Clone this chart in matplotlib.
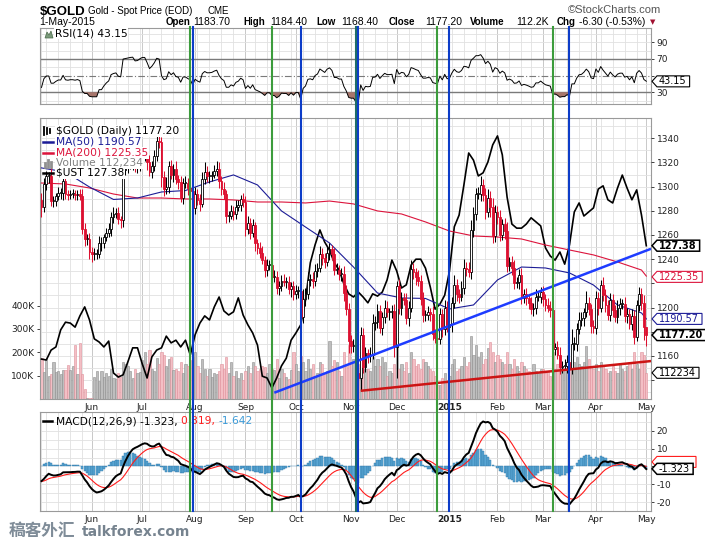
import numpy as np
import pandas as pd
import matplotlib
matplotlib.use("Agg")
import matplotlib.pyplot as plt
from matplotlib.patches import Polygon
from matplotlib.lines import Line2D
from matplotlib.transforms import IdentityTransform

# ---------------------------------------------------------------- data
holidays = ['2014-05-26', '2014-07-04', '2014-09-01', '2014-11-27', '2014-12-25',
            '2015-01-01', '2015-01-19', '2015-02-16', '2015-04-03']

# closes before the chart window (only used to warm up RSI / MACD)
closes_prior = [1350, 1337, 1337, 1351, 1338, 1340, 1347, 1367, 1370, 1382, 1367, 1359, 1330, 1331,
                1335, 1311, 1311, 1303, 1293, 1294, 1284,
                1279, 1290, 1286, 1303, 1298, 1309, 1310, 1320, 1318, 1327, 1302, 1303, 1294, 1289,
                1283, 1284, 1292, 1303, 1297, 1296, 1289]

closes_may14 = [1283, 1302, 1309, 1309, 1288, 1288, 1292, 1295, 1295, 1305, 1294, 1293, 1294, 1294,
                1293, 1294, 1292, 1265, 1257, 1257, 1246]
closes_jun14 = [1244, 1244, 1244, 1253, 1253, 1258, 1262, 1265, 1275, 1277, 1278, 1273, 1272, 1314,
                1316, 1318, 1320, 1321, 1316, 1317, 1322]
closes_jul14 = [1326, 1326, 1320, 1312, 1317, 1325, 1338, 1337, 1308, 1298, 1300, 1317, 1310, 1315,
                1306, 1304, 1291, 1303, 1303, 1299, 1296, 1282]
closes_aug14 = [1294, 1289, 1286, 1306, 1312, 1309, 1309, 1310, 1313, 1315, 1305, 1298, 1294, 1276,
                1276, 1280, 1277, 1283, 1285, 1290, 1287]
closes_sep14 = [1265, 1270, 1262, 1268, 1253, 1249, 1245, 1239, 1231, 1235, 1235, 1225, 1225, 1216,
                1218, 1222, 1221, 1221, 1215, 1218, 1211]
closes_oct14 = [1214, 1214, 1192, 1207, 1211, 1223, 1224, 1222, 1230, 1233, 1244, 1241, 1238, 1245,
                1248, 1244, 1231, 1231, 1228, 1228, 1212, 1199, 1172]
closes_nov14 = [1168, 1168, 1146, 1142, 1177, 1151, 1162, 1160, 1161, 1187, 1188, 1197, 1183, 1192,
                1200, 1196, 1196, 1197, 1167]
closes_dec14 = [1218, 1200, 1208, 1206, 1191, 1200, 1232, 1229, 1225, 1222, 1207, 1194, 1194, 1196,
                1195, 1178, 1175, 1174, 1195, 1182, 1200, 1184]
closes_jan15 = [1186, 1204, 1219, 1211, 1209, 1216, 1233, 1232, 1229, 1264, 1277, 1294, 1294, 1301,
                1293, 1279, 1291, 1283, 1259, 1279]
closes_feb15 = [1275, 1260, 1269, 1263, 1234, 1238, 1233, 1220, 1221, 1227, 1208, 1211, 1208, 1204,
                1199, 1200, 1209, 1209, 1213]
closes_mar15 = [1207, 1202, 1200, 1198, 1166, 1167, 1161, 1151, 1152, 1152, 1155, 1149, 1170, 1170,
                1182, 1190, 1191, 1196, 1204, 1199, 1185, 1183]
closes_apr15 = [1208, 1200, 1219, 1210, 1202, 1194, 1206, 1198, 1192, 1200, 1203, 1203, 1193, 1195,
                1186, 1193, 1176, 1202, 1211, 1204, 1183.5]
closes_may15 = [1177.2]

# wick length above / below the candle body
hiwick = [6,5,4,3,8,4,3,5,4,4,6,3,3,4,3,3,4,6,5,4,5,
          4,5,4,6,5,3,4,5,4,6,4,5,3,6,5,4,5,4,6,5,4,
          5,4,3,6,4,5,7,6,4,5,8,4,5,4,6,4,5,4,6,4,5,4,
          6,4,5,6,8,5,4,3,5,6,5,4,6,3,4,5,4,6,4,3,5,
          5,6,4,5,3,4,5,6,4,5,4,3,6,5,4,5,6,4,5,3,4,
          5,4,6,8,5,6,4,5,6,4,7,5,4,6,5,4,5,6,4,5,6,7,5,
          5,6,5,4,7,6,5,4,6,8,5,6,5,4,6,5,4,5,6,
          4,6,5,4,6,5,7,5,4,6,5,6,4,5,4,6,4,3,5,4,6,5,
          6,5,8,5,4,6,7,5,6,8,6,5,6,8,5,6,7,5,8,6,
          5,6,4,5,8,4,5,6,4,5,6,4,5,3,5,4,6,5,4,
          5,4,6,5,8,4,5,6,4,5,6,4,12,6,5,6,5,4,10,5,4,5,
          6,5,4,6,5,4,6,5,4,6,5,4,6,5,4,6,5,4,6,5,6,
          0.7]
lowick = [8,4,5,6,4,5,4,3,5,6,4,4,3,3,4,4,3,4,6,5,6,
          6,5,4,3,6,4,3,4,6,5,3,4,6,5,4,5,3,6,4,5,4,
          4,5,6,3,5,4,4,5,8,6,4,5,4,6,4,6,4,5,4,6,4,5,
          5,4,6,3,4,5,6,4,3,4,6,5,4,6,5,3,5,4,3,5,4,
          6,4,5,4,6,5,4,3,6,5,4,6,4,5,6,4,3,5,4,6,5,
          4,6,8,5,6,4,5,6,4,5,4,6,5,4,6,5,4,3,5,6,7,5,10,
          6,5,8,6,10,5,4,6,5,4,6,5,4,6,5,4,6,5,8,
          25,5,6,4,5,6,4,5,6,4,5,6,5,4,6,5,4,3,4,6,5,4,
          5,6,4,6,5,4,5,6,4,5,6,5,4,6,5,6,4,8,6,5,
          6,5,4,6,5,4,6,5,4,6,5,4,6,5,4,6,5,4,5,
          6,5,4,6,4,5,4,6,5,4,6,5,4,5,6,4,5,6,4,5,6,4,
          5,6,4,5,6,4,5,6,4,5,6,4,5,6,4,5,6,4,5,6,10,
          8.8]

# volume in thousands
volume_k = [175,115,170,100,105,160,115,120,105,125,125,145,125,140,230,105,238,105,42,3,3,
            3,95,120,78,120,95,110,100,130,90,85,110,95,160,150,140,120,90,130,110,115,
            165,200,150,210,130,120,175,150,200,190,140,170,180,125,130,120,160,110,150,140,165,180,
            200,140,110,170,130,100,130,95,110,105,120,150,130,180,110,160,100,120,90,110,80,
            120,140,110,160,140,120,130,140,135,110,150,130,125,170,90,130,110,95,85,125,200,
            150,120,185,160,120,170,130,150,95,110,160,150,110,120,250,140,165,160,120,100,200,140,230,
            160,170,220,150,200,140,130,130,120,180,140,170,140,180,160,100,120,110,150,
            260,130,150,120,160,110,200,170,140,150,130,170,160,140,130,120,100,60,60,90,110,80,
            100,150,170,120,130,140,180,140,160,270,190,230,180,200,150,170,220,245,200,160,
            190,170,160,150,200,150,130,170,140,120,160,140,130,120,110,150,120,110,130,
            130,110,120,100,200,130,150,160,140,130,120,150,170,160,180,150,140,160,225,170,140,130,
            150,120,160,140,130,110,120,140,120,110,150,130,120,140,160,130,200,150,130,200,190,
            112.234]

# $UST overlay, one reading every second session
ust_every2 = [124.86,124.84,125.06,125.13,125.51,125.68,125.66,125.57,125.82,126.02,
              125.73,125.31,125.24,125.13,125.26,124.55,124.46,124.51,124.80,125.11,
              125.11,124.75,124.44,124.91,125.06,125.11,125.37,125.22,125.28,125.13,
              125.28,124.95,125.40,125.66,125.82,125.73,126.02,126.24,125.93,125.84,
              125.91,126.22,125.84,125.62,125.44,125.17,124.48,124.44,124.22,124.44,
              124.71,124.88,125.28,125.44,125.62,126.17,127.00,127.40,127.73,127.46,
              127.28,127.00,126.84,126.53,126.31,126.24,126.35,126.24,126.11,126.31,
              126.26,126.35,126.62,127.06,126.82,126.44,126.51,126.95,127.08,127.08,
              126.88,126.46,125.97,126.08,126.28,126.82,127.80,128.06,128.73,129.44,
              129.28,128.93,129.00,129.24,129.62,129.82,129.40,128.46,127.86,127.77,
              127.77,127.86,128.00,127.91,127.82,127.33,127.15,127.06,127.24,126.97,
              127.40,128.13,128.33,128.04,128.13,128.22,128.64,128.71,128.40,128.33,
              128.66,128.95,128.66,128.40,128.62,128.06,127.38]

# moving averages read every 10th session (plus the last one)
ma50_every10 = [1315.5, 1312.1, 1299.7, 1289.4, 1290.6, 1295.6, 1296.8, 1303.9, 1309.7, 1301.4,
                1279.9, 1266.6, 1253.4, 1233.5, 1212.0, 1207.9, 1207.5, 1198.8, 1202.1, 1222.8,
                1233.5, 1232.7, 1228.6, 1218.6, 1202.1, 1195.5, 1190.57]
ma200_every10 = [1303.0, 1302.2, 1298.9, 1293.9, 1290.6, 1290.6, 1289.8, 1289.8, 1289.0, 1287.3,
                 1287.3, 1286.5, 1288.1, 1285.7, 1279.9, 1277.4, 1270.8, 1263.3, 1259.2, 1258.3,
                 1256.7, 1251.7, 1247.6, 1243.5, 1237.7, 1231.0, 1226.0]

green_days = ['2014-07-30', '2014-09-17', '2014-12-24', '2015-03-06']
teal_days = ['2014-11-05']
blue_days = ['2014-07-31', '2014-10-03', '2014-11-06', '2015-01-02', '2015-03-17']

trend_blue = ('2014-09-18', 1129.5, '2015-05-01', 1247.1)
trend_red = ('2014-11-07', 1131.1, '2015-05-01', 1155.3)

last_rsi, last_ust, last_ma200, last_ma50, last_close, last_vol_k = 43.15, 127.38, 1225.35, 1190.57, 1177.20, 112.234
last_macd, last_signal, last_hist = -1.323, 0.319, -1.642

# ---------------------------------------------------------------- fonts
SANS = 'Liberation Sans'
CJK = ['Noto Sans CJK SC', 'Noto Sans CJK JP', 'Noto Sans CJK TC', 'DejaVu Sans']
plt.rcParams['font.family'] = ['DejaVu Sans']

# ---------------------------------------------------------------- prep
W, H, DPI = 705, 540, 100
dates = pd.bdate_range('2014-05-01', '2015-05-01')
dates = dates[~dates.isin(pd.to_datetime(holidays))]
close = np.array(closes_may14 + closes_jun14 + closes_jul14 + closes_aug14 + closes_sep14 +
                 closes_oct14 + closes_nov14 + closes_dec14 + closes_jan15 + closes_feb15 +
                 closes_mar15 + closes_apr15 + closes_may15, dtype=float)
n = min(len(dates), len(close), len(volume_k), len(hiwick), len(lowick))
dates = dates[:n]; close = close[:n]
vol = np.array(volume_k[:n], float)
x = np.arange(n)
opn = np.r_[closes_prior[-1], close[:-1]]
high = np.maximum(opn, close) + np.array(hiwick[:n], float)
low = np.minimum(opn, close) - np.array(lowick[:n], float)
up = close >= opn

full = pd.Series(np.r_[np.array(closes_prior, float), close])
d = full.diff()
ag = d.clip(lower=0).ewm(alpha=1/14, adjust=False).mean()
al = (-d.clip(upper=0)).ewm(alpha=1/14, adjust=False).mean()
rsi = (100 - 100 / (1 + ag / al)).values[len(closes_prior):]
macd_full = full.ewm(span=12, adjust=False).mean() - full.ewm(span=26, adjust=False).mean()
sig_full = macd_full.ewm(span=9, adjust=False).mean()
macd = macd_full.values[len(closes_prior):]
sig = sig_full.values[len(closes_prior):]
hist = macd - sig

pos = pd.Series(np.arange(n), index=dates)
def idx(ds):
    return pos[pd.Timestamp(ds)]

ma_x = list(range(0, n, 10)) + [n - 1]
ust_x = list(range(0, n, 2))

month_first = pos.groupby([dates.year, dates.month]).first().values[1:]
month_lab = [('2015' if dates[i].month == 1 else dates[i].strftime('%b')) for i in month_first]
wk = [i for i in range(n) if i == 0 or dates[i].weekday() < dates[i - 1].weekday()]

# ---------------------------------------------------------------- figure
fig = plt.figure(figsize=(W / DPI, H / DPI), dpi=DPI)
L, R = 40, 651
def add_ax(top, bot):
    return fig.add_axes([L / W, 1 - bot / H, (R - L) / W, (bot - top) / H])

XL = (-0.625, 253.96)
RED = '#dc1030'
GRID = '#e1e1e1'
MGRID = '#c9c9c9'
TICK = dict(labelsize=6.5, colors='#222222', length=2, width=0.6, pad=2)

def style(ax):
    ax.set_xlim(*XL)
    for s in ax.spines.values():
        s.set_color('#9a9a9a'); s.set_linewidth(0.8)
    ax.tick_params(axis='both', **TICK)
    ax.tick_params(axis='x', colors='#9a9a9a', labelcolor='#222222')

def vgrid(ax):
    for i in wk:
        ax.axvline(i, color=GRID, lw=0.6, zorder=0)
    for i in month_first:
        ax.axvline(i, color=MGRID, lw=0.7, zorder=0)

# ---- RSI panel
axr = add_ax(28, 104)
style(axr)
axr.set_ylim(15.96, 107.2)
vgrid(axr)
for v in range(20, 110, 10):
    if v not in (30, 50, 70):
        axr.axhline(v, color=GRID, lw=0.6, zorder=0)
axr.axhline(70, color='#7a7a7a', lw=1.0, zorder=1)
axr.axhline(30, color='#7a7a7a', lw=1.0, zorder=1)
axr.axhline(50, color='#7a7a7a', lw=0.8, ls=(0, (6, 2, 1, 2)), zorder=1)
axr.fill_between(x, rsi, 30, where=rsi < 30, interpolate=True, color='#a8766c', lw=0, zorder=2)
axr.plot(x, rsi, color='black', lw=0.7, zorder=3)
axr.yaxis.tick_right()
axr.set_xticks(month_first)
axr.tick_params(axis='x', labelbottom=False, length=0)

# ---- main panel
axv = add_ax(118, 399)
style(axv)
axv.set_ylim(0, 1204)
axu = axv.twinx()
axu.set_ylim(123.973, 130.218)
axu.set_yticks([])
axp = axv.twinx()
axp.set_ylim(1124.3, 1356.8)
for a in (axu, axp):
    a.set_xlim(*XL)
    for s in a.spines.values():
        s.set_visible(False)
vgrid(axv)
for pv in range(1130, 1360, 10):
    axv.plot(XL, [pv, pv], color=GRID, lw=0.6, zorder=0, transform=axp.transData)
vcol = np.where(up, '#bebebe', '#f3bfc5')
vedge = np.where(up, '#8e8e8e', '#e0909a')
axv.bar(x, vol, width=0.85, color=vcol, edgecolor=vedge, lw=0.4, zorder=2)
axv.set_yticks([100, 200, 300, 400])
axv.set_yticklabels(['100K', '200K', '300K', '400K'])
axv.set_xticks(month_first)
axv.set_xticklabels(month_lab)
axv.tick_params(axis='x', length=0, pad=3)

axu.plot(ust_x, ust_every2, color='black', lw=1.2, zorder=3)

axp.plot(ma_x, ma200_every10, color='#dc143c', lw=0.8, zorder=2)
axp.plot(ma_x, ma50_every10, color='#1c1c96', lw=0.8, zorder=2)
col = np.where(up, 'black', RED)
axp.vlines(x, low, high, colors=col, lw=0.75, zorder=3)
bot = np.minimum(opn, close)
hgt = np.maximum(np.abs(close - opn), 0.7)
axp.bar(x[up], hgt[up], bottom=bot[up], width=0.8, facecolor='white', edgecolor='black', lw=0.6, zorder=4)
axp.bar(x[~up], hgt[~up], bottom=bot[~up], width=0.8, facecolor=RED, edgecolor=RED, lw=0.6, zorder=4)
axp.yaxis.tick_right()
axp.tick_params(axis='y', **TICK)

for (d0, p0, d1, p1), c in ((trend_blue, '#1e3cff'), (trend_red, '#cc1414')):
    i0, i1 = idx(d0), idx(d1)
    slope = (p1 - p0) / (i1 - i0)
    axp.plot([i0, XL[1]], [p0, p1 + slope * (XL[1] - i1)], color=c, lw=1.8,
             solid_capstyle='butt', zorder=6, clip_on=True)

# ---- MACD panel
axm = add_ax(412, 511)
style(axm)
axm.set_ylim(-25.07, 30.7)
vgrid(axm)
for v in (-20, -15, -10, -5, 5, 10, 15, 20, 25):
    axm.axhline(v, color=GRID, lw=0.6, zorder=0)
axm.bar(x, hist, width=0.85, color='#5aa6d4', edgecolor='#2e76a6', lw=0.3, zorder=2)
axm.plot(x, sig, color='#ff1c1c', lw=0.8, zorder=3)
axm.plot(x, macd, color='black', lw=1.4, zorder=4)
axm.yaxis.tick_right()
axm.set_xticks(month_first)
axm.set_xticklabels(month_lab)
axm.tick_params(axis='x', length=0, pad=3)

for a in (axv, axm):
    for t in a.get_xticklabels():
        if t.get_text() == '2015':
            t.set_fontweight('bold')

# ---------------------------------------------------------------- figure-level helpers
ID = IdentityTransform()
def P(xp, yp):
    return (xp, H - yp)

def ftext(xp, yp, s, **kw):
    kw.setdefault('transform', ID)
    return fig.text(xp, H - yp, s, **kw)

renderer = fig.canvas.get_renderer()

def tag(ax, val, text, ec, tc, bold=False, dy=0.0, lw=0.8, show_text=True, minw=0):
    ypx = ax.transData.transform((0, val))[1] - dy
    x0 = ax.transAxes.transform((1, 0))[0] + 1
    w = minw
    if show_text:
        t = fig.text(x0 + 7, ypx, text, fontsize=7, color=tc, va='center', ha='left',
                     fontweight='bold' if bold else 'normal', transform=ID, zorder=6)
        w = t.get_window_extent(renderer=renderer).width + 10
    h = 11
    poly = Polygon([[x0, ypx], [x0 + 5, ypx + h / 2], [x0 + w, ypx + h / 2],
                    [x0 + w, ypx - h / 2], [x0 + 5, ypx - h / 2]], closed=True,
                   fc='white', ec=ec, lw=lw, transform=ID, zorder=5)
    fig.add_artist(poly)
    return ypx

def ticks_clear(ax, values, tag_px, fmt='{:g}'):
    """put tick labels, blanking the ones that a value tag covers"""
    ax.set_yticks(values)
    labs = []
    for v in values:
        yp = ax.transData.transform((0, v))[1]
        hidden = any(abs(yp - t) < 10.5 for t in tag_px)
        labs.append('' if hidden else fmt.format(v))
    ax.set_yticklabels(labs)

# vertical signal lines through all panels
def vline(i, c):
    xp = axv.transData.transform((i, 0))[0]
    fig.add_artist(Line2D([xp, xp], [H - 27, H - 511], color=c, lw=1.5, transform=ID, zorder=2))
for ds in green_days:
    vline(idx(ds), '#3c9c3c')
for ds in teal_days:
    vline(idx(ds), '#1e6e66')
for ds in blue_days:
    vline(idx(ds), '#0c3cc8')

# value tags on the right edge
t_rsi = [tag(axr, last_rsi, f'{last_rsi:.2f}', 'black', 'black')]
t_main = [tag(axu, last_ust, f'{last_ust:.2f}', 'black', 'black', bold=True, lw=1.1),
          tag(axp, last_ma200, f'{last_ma200:.2f}', '#dc143c', '#dc143c'),
          tag(axp, last_ma50, f'{last_ma50:.2f}', '#1c1c96', '#1c1c96'),
          tag(axp, last_close, f'{last_close:.2f}', 'black', 'black', bold=True, lw=1.1),
          tag(axv, last_vol_k, f'{last_vol_k * 1000:.0f}', 'black', 'black')]
t_macd = [tag(axm, last_signal, '', '#ff1c1c', '#ff1c1c', dy=-4, show_text=False, minw=44),
          tag(axm, last_macd, f'{last_macd:.3f}', 'black', 'black', lw=1.1)]
ticks_clear(axr, [30, 50, 70, 90], t_rsi)
ticks_clear(axp, list(range(1140, 1341, 20)), t_main)
ticks_clear(axm, [-20, -10, 0, 10, 20], t_macd)

# ---------------------------------------------------------------- header
ftext(40, 15, '$GOLD', fontsize=9.5, fontweight='bold', family=SANS)
ftext(88, 14, 'Gold - Spot Price (EOD)', fontsize=7, family=SANS)
ftext(207, 14, 'CME', fontsize=7, family=SANS)
ftext(568, 13, '\u00a9StockCharts.com', fontsize=8, family=SANS, color='#555555')
ftext(39, 25, '1-May-2015', fontsize=7.5, family=SANS)
hdr = [(166, 'Open', True), (193, '1183.70', False), (243, 'High', True), (270, '1184.40', False),
       (316, 'Low', True), (341, '1168.40', False), (389, 'Close', True), (425, '1177.20', False),
       (470, 'Volume', True), (516, '112.2K', False), (557, 'Chg', True), (579, '-6.30 (-0.53%)', False)]
for xp, s, b in hdr:
    ftext(xp, 25, s, fontsize=7 if b else 7.5, fontweight='bold' if b else 'normal', family=SANS)
ftext(650, 24.5, '\u25bc', fontsize=5, color='#a01030')

# ---------------------------------------------------------------- legends
BOX = dict(fc='white', ec='none', pad=0.6)
LFS = 7.7
# RSI
fig.add_artist(Polygon([P(45, 38), P(47, 32), P(49, 35), P(51, 31), P(53, 38)], closed=True,
                       fc='#7a9a7a', ec='#4a6a4a', lw=0.5, transform=ID, zorder=6))
ftext(55, 33, f'RSI(14) {last_rsi:.2f}', fontsize=LFS, va='center', bbox=BOX, zorder=5)
# main
leg = [(130.7, f'$GOLD (Daily) {last_close:.2f}', 'black'), (141.7, f'MA(50) {last_ma50:.2f}', '#1c1c96'),
       (152.7, f'MA(200) {last_ma200:.2f}', '#dc143c'), (163.3, f'Volume {last_vol_k * 1000:,.0f}', '#808080'),
       (172.7, f'$UST {last_ust:.2f}', 'black')]
for yy, s, c in leg:
    ftext(56, yy, s, fontsize=LFS, color=c, va='center', bbox=BOX, zorder=5)
for yy, c in ((141.7, '#1c1c96'), (152.7, '#dc143c'), (172.7, 'black')):
    fig.add_artist(Line2D([43, 53], [H - yy, H - yy], color=c, lw=1.8, transform=ID, zorder=6))
for k, xx in enumerate((44, 47, 50)):
    fig.add_artist(Line2D([xx, xx], [H - 126.5 - k, H - 134.5 + k], color='black', lw=1.3,
                          transform=ID, zorder=6))
for k, (xx, hh) in enumerate(((45, 4), (48, 7), (51, 5))):
    fig.add_artist(Line2D([xx, xx], [H - 167, H - 167 + hh], color='#909090', lw=2,
                          transform=ID, zorder=6))
# MACD legend (drawn in the axes so the signal lines sit on top)
axm.add_artist(Line2D([43, 52], [H - 421, H - 421], color='black', lw=1.8, transform=ID, zorder=6))
xx = 56
for s, c in ((f'MACD(12,26,9) {last_macd:.3f}, ', 'black'), (f'{last_signal:.3f}, ', '#ff1c1c'),
             (f'{last_hist:.3f}', '#3a9ad8')):
    t = axm.text(xx, H - 421, s, fontsize=LFS, color=c, va='center', ha='left', transform=ID, zorder=7)
    xx += t.get_window_extent(renderer=renderer).width

# watermark (kept just below the month labels)
ftext(9, 531.5, '\u7a3f\u5ba2\u5916\u6c47', fontsize=12, family=CJK, fontweight='bold',
      color='#7f8c98', va='center', zorder=8)
ftext(82, 532, 'talkforex.com', fontsize=10, fontweight='bold', color='#76838f', va='center', zorder=8)

fig.savefig('out.png', dpi=DPI)
